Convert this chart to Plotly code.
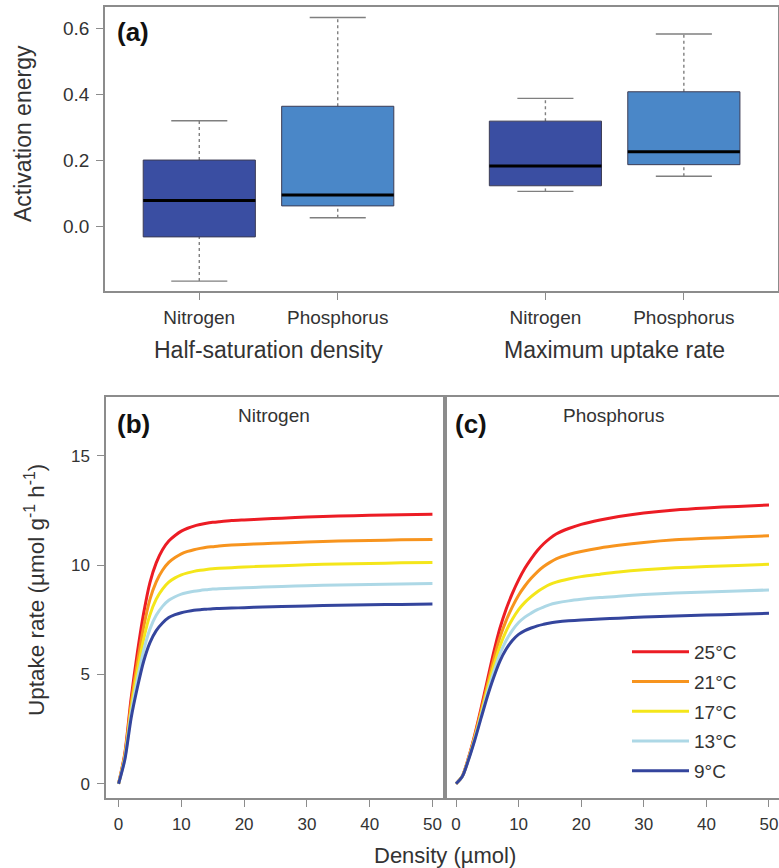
import plotly.graph_objects as go

W, H = 779, 868

# ---------------- Panel (a): activation energy boxplots ----------------
group_labels = ["Half-saturation density", "Maximum uptake rate"]
group_pos = [1.5, 4.0]
box_labels = ["Nitrogen", "Phosphorus", "Nitrogen", "Phosphorus"]
box_pos = [1, 2, 3.5, 4.5]
box_low = [-0.167, 0.025, 0.105, 0.151]
box_q1 = [-0.033, 0.061, 0.122, 0.186]
box_med = [0.077, 0.094, 0.182, 0.225]
box_q3 = [0.200, 0.363, 0.318, 0.407]
box_high = [0.319, 0.632, 0.387, 0.582]
box_colors = ["#3A4EA2", "#4A87C8", "#3A4EA2", "#4A87C8"]

# ---------------- Panels (b), (c): uptake curves ----------------
density = [0, 1, 2, 3, 4, 5, 6, 7, 8, 9, 10, 11, 12, 13, 14, 15, 16, 18, 20, 23, 26, 30, 35, 40, 45, 50]
temps = ["25°C", "21°C", "17°C", "13°C", "9°C"]
temp_colors = ["#EC1C24", "#F7941E", "#F4E61A", "#ADD8E6", "#34459D"]

nitrogen = {
    "25°C": [0, 1.4, 3.9, 6.0, 7.8, 9.2, 10.1, 10.7, 11.1, 11.35, 11.55, 11.68, 11.78, 11.85, 11.91, 11.95, 11.98, 12.03, 12.06, 12.1, 12.14, 12.19, 12.24, 12.27, 12.3, 12.32],
    "21°C": [0, 1.32, 3.65, 5.55, 7.18, 8.43, 9.23, 9.76, 10.12, 10.34, 10.51, 10.62, 10.7, 10.76, 10.81, 10.84, 10.87, 10.91, 10.94, 10.97, 11.01, 11.05, 11.1, 11.12, 11.15, 11.17],
    "17°C": [0, 1.24, 3.42, 5.14, 6.62, 7.72, 8.44, 8.9, 9.22, 9.41, 9.55, 9.64, 9.71, 9.76, 9.8, 9.83, 9.85, 9.88, 9.91, 9.94, 9.97, 10.01, 10.05, 10.07, 10.1, 10.12],
    "13°C": [0, 1.17, 3.2, 4.76, 6.1, 7.07, 7.7, 8.11, 8.39, 8.55, 8.67, 8.74, 8.8, 8.84, 8.87, 8.9, 8.91, 8.94, 8.96, 8.99, 9.02, 9.05, 9.09, 9.11, 9.13, 9.15],
    "9°C":  [0, 1.1, 3.0, 4.4, 5.6, 6.45, 7.0, 7.35, 7.6, 7.73, 7.82, 7.88, 7.93, 7.96, 7.98, 8.0, 8.01, 8.03, 8.05, 8.08, 8.1, 8.13, 8.16, 8.18, 8.2, 8.22],
}
phosphorus = {
    "25°C": [0, 0.35, 1.2, 2.25, 3.45, 4.72, 5.98, 7.1, 7.98, 8.7, 9.32, 9.85, 10.28, 10.66, 10.97, 11.22, 11.42, 11.67, 11.86, 12.06, 12.22, 12.38, 12.52, 12.61, 12.68, 12.74],
    "21°C": [0, 0.34, 1.17, 2.18, 3.32, 4.51, 5.66, 6.68, 7.46, 8.09, 8.62, 9.04, 9.39, 9.69, 9.93, 10.12, 10.28, 10.48, 10.62, 10.78, 10.9, 11.03, 11.15, 11.22, 11.28, 11.34],
    "17°C": [0, 0.34, 1.15, 2.11, 3.2, 4.32, 5.36, 6.28, 6.98, 7.52, 7.96, 8.29, 8.55, 8.78, 8.96, 9.11, 9.22, 9.36, 9.47, 9.58, 9.68, 9.78, 9.87, 9.93, 9.98, 10.03],
    "13°C": [0, 0.33, 1.12, 2.05, 3.1, 4.14, 5.09, 5.92, 6.55, 7.01, 7.37, 7.62, 7.8, 7.96, 8.08, 8.19, 8.26, 8.36, 8.43, 8.51, 8.57, 8.65, 8.72, 8.77, 8.81, 8.86],
    "9°C":  [0, 0.33, 1.1, 2.0, 3.0, 3.98, 4.85, 5.6, 6.15, 6.55, 6.83, 7.0, 7.12, 7.22, 7.29, 7.35, 7.39, 7.45, 7.49, 7.53, 7.57, 7.62, 7.67, 7.71, 7.75, 7.79],
}

FONT = "Liberation Sans, Arial, sans-serif"
AX = "#8C8C8C"
TXT = "#333333"

fig = go.Figure()

# boxplots
hw = 0.405
for p, lo, q1, md, q3, hi, c in zip(box_pos, box_low, box_q1, box_med, box_q3, box_high, box_colors):
    for a, b in ((q3, hi), (lo, q1)):
        fig.add_trace(go.Scatter(x=[p, p], y=[a, b], mode="lines", xaxis="x", yaxis="y",
                                 line=dict(color="#7F7F7F", width=1.4, dash="3px,3px"),
                                 showlegend=False, hoverinfo="skip"))
    for v in (lo, hi):
        fig.add_trace(go.Scatter(x=[p - hw / 2, p + hw / 2], y=[v, v], mode="lines", xaxis="x", yaxis="y",
                                 line=dict(color="#7F7F7F", width=1.4),
                                 showlegend=False, hoverinfo="skip"))
    fig.add_trace(go.Scatter(x=[p - hw, p + hw, p + hw, p - hw, p - hw], y=[q1, q1, q3, q3, q1],
                             mode="lines", fill="toself", fillcolor=c, xaxis="x", yaxis="y",
                             line=dict(color="#3C3C55", width=1), showlegend=False, hoverinfo="skip"))
    fig.add_trace(go.Scatter(x=[p - hw, p + hw], y=[md, md], mode="lines", xaxis="x", yaxis="y",
                             line=dict(color="#000000", width=3), showlegend=False, hoverinfo="skip"))

# curves
for t, c in zip(temps, temp_colors):
    fig.add_trace(go.Scatter(x=density, y=nitrogen[t], mode="lines", xaxis="x2", yaxis="y2",
                             line=dict(color=c, width=3, shape="spline", smoothing=0.8),
                             name=t, showlegend=False))
for t, c in zip(temps, temp_colors):
    fig.add_trace(go.Scatter(x=density, y=phosphorus[t], mode="lines", xaxis="x3", yaxis="y3",
                             line=dict(color=c, width=3, shape="spline", smoothing=0.8),
                             name=t, legendgroup=t, showlegend=True))

def px_x(v):
    return v / W

def px_y(v):
    return 1 - v / H

def axis_common(size):
    return dict(showline=True, linecolor=AX, linewidth=1.5, ticks="outside", tickcolor=AX,
                ticklen=7, tickwidth=1.3, showgrid=False, zeroline=False,
                tickfont=dict(family=FONT, size=size, color=TXT))

fig.update_layout(
    width=W, height=H, margin=dict(l=0, r=0, t=0, b=0),
    paper_bgcolor="white", plot_bgcolor="white",
    font=dict(family=FONT, color=TXT),
    xaxis=dict(**axis_common(19), domain=[px_x(105), px_x(778)], range=[0.319, 5.18], mirror=True,
               tickvals=box_pos, ticktext=box_labels, anchor="y", ticklabelstandoff=1),
    yaxis=dict(**axis_common(19), domain=[px_y(291), px_y(7)], range=[-0.197, 0.664], mirror=True,
               tickvals=[0.0, 0.2, 0.4, 0.6], ticktext=["0.0", "0.2", "0.4", "0.6"], anchor="x",
               ticklabelstandoff=3),
    xaxis2=dict(**axis_common(17), domain=[px_x(106), px_x(445)], range=[-2, 52], mirror=True,
                tickvals=[0, 10, 20, 30, 40, 50], anchor="y2", ticklabelstandoff=3),
    yaxis2=dict(**axis_common(17), domain=[px_y(798), px_y(397)], range=[-0.65, 17.68], mirror=True,
                tickvals=[0, 5, 10, 15], anchor="x2", ticklabelstandoff=4),
    xaxis3=dict(**axis_common(17), domain=[px_x(445), 1.0], range=[-1.76, 51.6], mirror=True,
                tickvals=[0, 10, 20, 30, 40, 50], anchor="y3", ticklabelstandoff=3),
    yaxis3=dict(showline=True, linecolor=AX, linewidth=1.5, showgrid=False, zeroline=False,
                domain=[px_y(798), px_y(397)], range=[-0.65, 17.68], showticklabels=False,
                ticks="", anchor="x3"),
    legend=dict(x=px_x(627), y=px_y(633), xanchor="left", yanchor="top",
                bgcolor="rgba(0,0,0,0)", font=dict(family=FONT, size=19, color=TXT),
                itemwidth=57, tracegroupgap=2, traceorder="grouped"),
    showlegend=True,
)

ann = []
for lab, gp in zip(group_labels, group_pos):
    ann.append(dict(text=lab, x=gp, xref="x", y=px_y(350), yref="paper", showarrow=False,
                    xanchor="center", yanchor="middle", font=dict(family=FONT, size=23, color=TXT)))
ann += [
    dict(text="Activation energy", x=px_x(23), y=px_y(134), xref="paper", yref="paper", textangle=-90,
         showarrow=False, xanchor="center", yanchor="middle", font=dict(family=FONT, size=23, color=TXT)),
    dict(text="Uptake rate (µmol g<sup>-1</sup> h<sup>-1</sup>)", x=px_x(35), y=px_y(590), xref="paper",
         yref="paper", textangle=-90, showarrow=False, xanchor="center", yanchor="middle",
         font=dict(family=FONT, size=22.5, color=TXT)),
    dict(text="Density (µmol)", x=px_x(445), y=px_y(855), xref="paper", yref="paper", showarrow=False,
         xanchor="center", yanchor="middle", font=dict(family=FONT, size=22, color=TXT)),
    dict(text="<b>(a)</b>", x=px_x(115), y=px_y(32), xref="paper", yref="paper", showarrow=False,
         xanchor="left", yanchor="middle", font=dict(family=FONT, size=26, color="#111111")),
    dict(text="<b>(b)</b>", x=px_x(115), y=px_y(424), xref="paper", yref="paper", showarrow=False,
         xanchor="left", yanchor="middle", font=dict(family=FONT, size=26, color="#111111")),
    dict(text="<b>(c)</b>", x=px_x(453), y=px_y(424), xref="paper", yref="paper", showarrow=False,
         xanchor="left", yanchor="middle", font=dict(family=FONT, size=26, color="#111111")),
    dict(text="Nitrogen", x=px_x(274), y=px_y(416), xref="paper", yref="paper", showarrow=False,
         xanchor="center", yanchor="middle", font=dict(family=FONT, size=19, color=TXT)),
    dict(text="Phosphorus", x=px_x(613), y=px_y(416), xref="paper", yref="paper", showarrow=False,
         xanchor="center", yanchor="middle", font=dict(family=FONT, size=19, color=TXT)),
]
fig.update_layout(annotations=ann)

fig.write_html("out.html")
